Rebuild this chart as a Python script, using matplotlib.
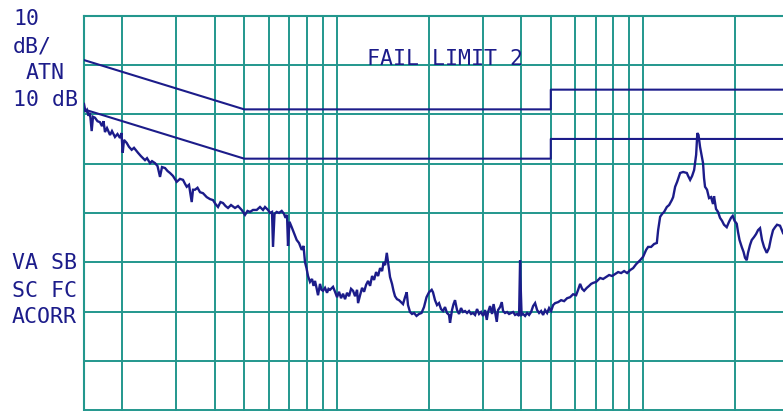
import matplotlib
matplotlib.use("Agg")
import matplotlib.pyplot as plt

# ---- data (frequency in MHz, level in dB) ----
freq_mhz = [
    0.150, 0.1517, 0.1534, 0.1552, 0.1569, 0.1589, 0.1605, 0.1629, 0.1660, 0.1691,
    0.1717, 0.1737, 0.1756, 0.1783, 0.1824, 0.1851, 0.1893, 0.1929, 0.1966, 0.1988,
    0.2006, 0.2026, 0.2067, 0.2103, 0.2146, 0.2184, 0.2250, 0.2302, 0.2372, 0.2408,
    0.2463, 0.2500, 0.2557, 0.2606, 0.2655, 0.2695, 0.2757, 0.2809, 0.2862, 0.2927,
    0.3010, 0.3085, 0.3156, 0.3204, 0.3245, 0.3301, 0.3369, 0.3402, 0.3453, 0.3519,
    0.3586, 0.3667, 0.3771, 0.3865, 0.3953, 0.4028, 0.4105, 0.4182, 0.4262, 0.4343,
    0.4425, 0.4526, 0.4664, 0.4770, 0.4905, 0.4953, 0.5028, 0.5123, 0.5220, 0.5339,
    0.5490, 0.5627, 0.5756, 0.5843, 0.5976, 0.6066, 0.6158, 0.6205, 0.6275, 0.6380,
    0.6491, 0.6624, 0.6739, 0.6816, 0.6893, 0.6945, 0.7023, 0.7141, 0.7265, 0.7414,
    0.7543, 0.7698, 0.7802, 0.7891, 0.7980, 0.8071, 0.8193, 0.8318, 0.8412, 0.8507,
    0.8604, 0.8701, 0.8833, 0.8933, 0.9035, 0.9171, 0.9311, 0.9416, 0.9523, 0.9740,
    0.9888, 1.0038, 1.0190, 1.0344, 1.0501, 1.0660, 1.0822, 1.0986, 1.1152, 1.1321,
    1.1493, 1.1667, 1.1755, 1.1933, 1.2114, 1.2298, 1.2484, 1.2673, 1.2866, 1.3061,
    1.3259, 1.3460, 1.3664, 1.3871, 1.4081, 1.4240, 1.4402, 1.4587, 1.4721, 1.4944,
    1.5170, 1.5341, 1.5516, 1.5750, 1.5989, 1.6231, 1.6476, 1.6726, 1.6941, 1.7107,
    1.7366, 1.7629, 1.7896, 1.8235, 1.8580, 1.8933, 1.9291, 1.9657, 2.0030, 2.0440,
    2.0640, 2.0953, 2.1270, 2.1593, 2.1920, 2.2252, 2.2589, 2.2932, 2.3279, 2.3455,
    2.3810, 2.4080, 2.4353, 2.4722, 2.5097, 2.5478, 2.5864, 2.6256, 2.6654, 2.7058,
    2.7468, 2.7884, 2.8307, 2.8736, 2.9171, 2.9613, 3.0063, 3.0518, 3.0911, 3.1214,
    3.1686, 3.2166, 3.2531, 3.2900, 3.3323, 3.3650, 3.4160, 3.4599, 3.4938, 3.5468,
    3.6006, 3.6551, 3.7106, 3.7667, 3.8238, 3.8817, 3.9405, 3.9702, 3.9912, 4.0152,
    4.0608, 4.1223, 4.1847, 4.2482, 4.3125, 4.3779, 4.4442, 4.5116, 4.5798, 4.6493,
    4.7196, 4.7912, 4.8638, 4.9374, 5.0121, 5.0882, 5.1651, 5.2829, 5.4033, 5.5265,
    5.6525, 5.7810, 5.9129, 6.0476, 6.1394, 6.2324, 6.3269, 6.4227, 6.5543, 6.6686,
    6.7695, 6.8721, 7.0287, 7.1351, 7.2434, 7.4085, 7.5774, 7.7501, 7.9268, 8.1074,
    8.2922, 8.4812, 8.6745, 8.8722, 9.0744, 9.2813, 9.4928, 9.7821, 10.005, 10.233,
    10.388, 10.625, 10.867, 11.090, 11.199, 11.368, 11.541, 11.715, 11.955, 12.164,
    12.413, 12.535, 12.725, 12.918, 13.212, 13.513, 13.894, 14.030, 14.243, 14.458,
    14.677, 14.900, 15.034, 15.170, 15.342, 15.516, 15.692, 15.810, 15.929, 16.170,
    16.415, 16.664, 16.914, 17.042, 17.300, 17.562, 17.828, 18.098, 18.371, 18.749,
    19.076, 19.364, 19.613, 19.880, 20.213, 20.411, 20.642, 20.985, 21.272, 21.512,
    21.789, 22.002, 22.337, 22.623, 23.018, 23.367, 23.720, 24.080, 24.444, 24.813,
    25.322, 25.763, 26.154, 26.550, 26.952, 27.360, 27.984, 28.623,
]
level_db = [
    57.1, 55.5, 55.9, 54.7, 55.3, 51.6, 54.5, 54.3, 53.6, 53.4,
    52.6, 53.6, 51.4, 52.2, 50.8, 51.6, 50.4, 51.0, 50.2, 51.2,
    47.2, 49.8, 49.2, 48.4, 47.8, 48.2, 47.2, 46.5, 45.7, 46.1,
    45.1, 45.5, 45.1, 44.5, 42.3, 44.3, 44.1, 43.5, 43.1, 42.5,
    41.3, 41.9, 41.7, 40.9, 40.3, 40.7, 37.2, 39.7, 39.7, 40.1,
    39.2, 39.0, 38.2, 37.8, 37.6, 36.8, 36.2, 37.2, 37.0, 36.4,
    36.0, 36.6, 36.0, 36.4, 35.6, 35.2, 34.6, 35.4, 35.2, 35.6,
    35.6, 36.2, 35.6, 36.2, 35.6, 35.0, 35.2, 28.1, 34.8, 35.2,
    35.0, 35.4, 34.8, 34.0, 34.6, 28.3, 33.2, 32.1, 30.9, 29.5,
    28.9, 27.5, 28.3, 25.0, 23.8, 22.2, 21.0, 21.6, 20.2, 21.2,
    19.8, 18.3, 20.6, 19.4, 19.2, 19.8, 18.8, 19.6, 19.4, 20.0,
    19.0, 17.9, 19.0, 17.7, 18.6, 17.5, 18.8, 18.1, 19.6, 19.2,
    18.1, 19.4, 16.7, 18.3, 19.8, 19.0, 20.4, 21.2, 20.2, 22.2,
    21.4, 23.0, 22.2, 23.8, 23.2, 25.0, 24.4, 26.9, 25.0, 22.0,
    20.6, 19.2, 18.1, 17.5, 17.3, 16.9, 16.5, 17.9, 18.9, 16.3,
    14.9, 14.5, 14.7, 14.1, 14.5, 14.7, 15.9, 17.9, 18.9, 19.4,
    18.9, 17.3, 16.3, 16.7, 15.5, 15.1, 15.9, 14.7, 14.3, 12.7,
    15.3, 16.5, 17.3, 15.3, 14.5, 15.7, 14.9, 15.1, 14.7, 15.1,
    14.5, 14.7, 14.3, 15.5, 14.5, 14.9, 14.1, 15.3, 13.3, 14.9,
    16.1, 14.5, 16.5, 14.9, 12.9, 15.3, 15.9, 16.9, 15.1, 14.7,
    14.9, 14.5, 14.7, 14.9, 14.3, 14.5, 14.1, 25.4, 19.4, 14.3,
    14.5, 14.1, 14.7, 14.3, 14.9, 16.1, 16.7, 15.3, 14.7, 15.1,
    14.3, 15.3, 14.7, 15.7, 15.1, 16.3, 16.7, 16.9, 17.3, 17.1,
    17.7, 17.9, 18.5, 18.3, 19.4, 20.6, 19.6, 19.2, 19.8, 20.2,
    20.6, 20.8, 21.0, 21.4, 21.8, 21.6, 22.0, 22.4, 22.2, 22.6,
    23.0, 22.8, 23.2, 22.8, 23.4, 23.8, 24.6, 25.4, 26.1, 27.5,
    28.1, 28.1, 28.7, 28.9, 31.5, 34.2, 34.8, 35.2, 36.2, 36.6,
    37.6, 38.2, 40.3, 41.3, 43.1, 43.3, 43.1, 42.5, 41.7, 42.5,
    43.7, 46.8, 51.2, 50.8, 48.4, 46.8, 45.1, 42.1, 40.3, 39.7,
    38.0, 38.2, 36.8, 38.4, 35.8, 35.2, 34.0, 33.4, 32.6, 32.1,
    33.2, 34.0, 34.4, 33.4, 32.8, 31.1, 29.5, 28.1, 27.1, 25.9,
    25.4, 26.9, 28.5, 29.5, 30.1, 30.7, 31.5, 31.9, 29.5, 28.1,
    26.9, 27.9, 29.9, 31.5, 32.1, 32.6, 32.4, 30.9,
]

limit_freq = [0.15, 0.5, 5.0, 5.0, 30.0]
limit1_db = [66, 56, 56, 60, 60]
limit2_db = [56, 46, 46, 50, 50]

grid_freqs = [0.2, 0.3, 0.4, 0.5, 0.6, 0.7, 0.8, 0.9,
              1, 2, 3, 4, 5, 6, 7, 8, 9, 10, 20]
grid_levels = [65, 55, 45, 35, 25, 15, 5, -5, -15]

left_labels = ["10", "dB/", "ATN", "10 dB"]
bottom_labels = ["VA SB", "SC FC", "ACORR"]
title_label = "FAIL LIMIT 2"

# ---- style ----
GRID = "#23978D"
INK = "#1C1C8A"
W, H = 783, 411

fig = plt.figure(figsize=(W / 100, H / 100), dpi=100)
fig.patch.set_facecolor("white")

ax_l, ax_r, ax_t, ax_b = 84, 789.3, 15.7, 508.7
ax = fig.add_axes([ax_l / W, 1 - ax_b / H, (ax_r - ax_l) / W, (ax_b - ax_t) / H])
ax.set_xscale("log")
ax.set_xlim(0.15, 30)
ax.set_ylim(-25, 75)
ax.set_xticks([])
ax.set_yticks([])
ax.minorticks_off()
for s in ax.spines.values():
    s.set_color(GRID)
    s.set_linewidth(1.5)

for f in grid_freqs:
    ax.axvline(f, color=GRID, lw=1.4, zorder=1)
for lv in grid_levels:
    ax.axhline(lv, color=GRID, lw=1.4, zorder=1)

ax.plot(limit_freq, limit1_db, color=INK, lw=1.5, zorder=3)
ax.plot(limit_freq, limit2_db, color=INK, lw=1.5, zorder=3)
ax.plot(freq_mhz, level_db, color=INK, lw=1.7, zorder=4, solid_joinstyle="miter")

font = dict(family="DejaVu Sans Mono", size=15.5, color=INK)

def put(text, x_px, base_px):
    fig.text(x_px / W, 1 - base_px / H, text, ha="left", va="baseline", **font)

for txt, x, b in zip(left_labels, [13, 13, 26, 13], [25, 53, 79, 106]):
    put(txt, x, b)
for txt, b in zip(bottom_labels, [269, 297, 323]):
    put(txt, 12, b)
put(title_label, 367, 65)

fig.savefig("out.png", dpi=100)
